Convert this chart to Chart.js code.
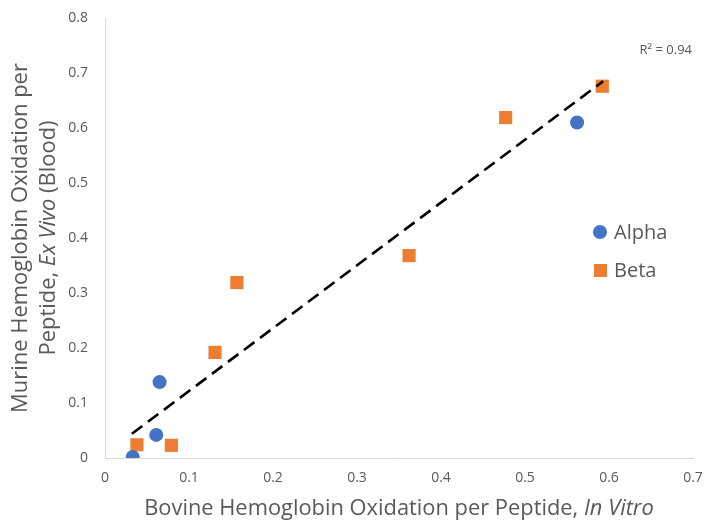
<!DOCTYPE html>
<html>
<head>
<meta charset="utf-8">
<script src="https://cdn.jsdelivr.net/npm/chart.js@4/dist/chart.umd.min.js"></script>
<style>
  html, body { margin: 0; padding: 0; background: #ffffff; }
  #wrap { width: 704px; height: 521px; position: relative; }
</style>
</head>
<body>
<div id="wrap"><canvas id="c" width="704" height="521"></canvas></div>
<script>
// ---- data ----
const seriesNames = ['Alpha', 'Beta'];
const alphaX = [0.033, 0.061, 0.065, 0.562];
const alphaY = [0.002, 0.042, 0.138, 0.610];
const betaX = [0.038, 0.079, 0.131, 0.157, 0.362, 0.477, 0.592];
const betaY = [0.024, 0.023, 0.192, 0.319, 0.368, 0.619, 0.676];
const trendX = [0.032, 0.593];
const trendY = [0.044, 0.685];
const r2Label = 'R\u00B2 = 0.94';
const xTickLabels = ['0', '0.1', '0.2', '0.3', '0.4', '0.5', '0.6', '0.7'];
const yTickLabels = ['0', '0.1', '0.2', '0.3', '0.4', '0.5', '0.6', '0.7', '0.8'];
const xTitleParts = [['Bovine Hemoglobin Oxidation per Peptide, ', false], ['In Vitro', true]];
const yTitleLine1 = [['Murine Hemoglobin Oxidation per', false]];
const yTitleLine2 = [['Peptide, ', false], ['Ex Vivo', true], [' (Blood)', false]];

const BLUE = '#4472C4';
const ORANGE = '#ED7D31';
const TEXT = '#595959';
const FONT = '"Open Sans", "DejaVu Sans", sans-serif';

function pts(xs, ys) { return xs.map((x, i) => ({ x: x, y: ys[i] })); }

function partsWidth(ctx, parts, size) {
  let w = 0;
  parts.forEach(([t, it]) => {
    ctx.font = (it ? 'italic ' : '') + size + 'px ' + FONT;
    w += ctx.measureText(t).width;
  });
  return w;
}
function drawParts(ctx, parts, size, cx, cy) {
  const w = partsWidth(ctx, parts, size);
  let x = cx - w / 2;
  parts.forEach(([t, it]) => {
    ctx.font = (it ? 'italic ' : '') + size + 'px ' + FONT;
    ctx.fillText(t, x, cy);
    x += ctx.measureText(t).width;
  });
}
function fitSize(ctx, parts, target) {
  const w = partsWidth(ctx, parts, 20);
  return 20 * target / w;
}

const decor = {
  id: 'decor',
  afterDraw(chart) {
    const ctx = chart.ctx;
    const a = chart.chartArea;
    ctx.save();
    ctx.fillStyle = TEXT;
    ctx.textBaseline = 'alphabetic';
    ctx.textAlign = 'left';
    // x title
    const xs = fitSize(ctx, xTitleParts, 510);
    drawParts(ctx, xTitleParts, xs, (a.left + a.right) / 2, 515);
    // y title (rotated)
    const ys = fitSize(ctx, yTitleLine1, 350);
    const cy = (a.top + a.bottom) / 2;
    ctx.save();
    ctx.translate(27, cy);
    ctx.rotate(-Math.PI / 2);
    drawParts(ctx, yTitleLine1, ys, 0, 0);
    ctx.restore();
    ctx.save();
    ctx.translate(55, cy);
    ctx.rotate(-Math.PI / 2);
    drawParts(ctx, yTitleLine2, ys, 0, 0);
    ctx.restore();
    // R^2 label
    ctx.font = '13px ' + FONT;
    ctx.textAlign = 'right';
    ctx.textBaseline = 'middle';
    ctx.fillText(r2Label, 692, 50);
    // legend
    ctx.textAlign = 'left';
    ctx.font = '20px ' + FONT;
    ctx.fillStyle = BLUE;
    ctx.beginPath();
    ctx.arc(600, 232, 7, 0, Math.PI * 2);
    ctx.fill();
    ctx.fillStyle = ORANGE;
    ctx.fillRect(594, 264, 13, 13);
    ctx.fillStyle = TEXT;
    ctx.fillText(seriesNames[0], 614, 233);
    ctx.fillText(seriesNames[1], 614, 271);
    ctx.restore();
  }
};

new Chart(document.getElementById('c'), {
  type: 'scatter',
  data: {
    datasets: [
      {
        type: 'line',
        label: 'Trend',
        data: pts(trendX, trendY),
        showLine: true,
        borderColor: '#000000',
        borderWidth: 2.6,
        borderDash: [13, 7],
        pointRadius: 0,
        fill: false
      },
      {
        label: seriesNames[0],
        data: pts(alphaX, alphaY),
        backgroundColor: BLUE,
        borderColor: BLUE,
        pointStyle: 'circle',
        pointRadius: 7,
        pointBorderWidth: 0
      },
      {
        label: seriesNames[1],
        data: pts(betaX, betaY),
        backgroundColor: ORANGE,
        borderColor: ORANGE,
        pointStyle: 'rect',
        pointRadius: 9.3,
        pointBorderWidth: 0
      }
    ]
  },
  options: {
    responsive: false,
    animation: false,
    events: [],
    layout: { padding: { left: 0, right: 11, top: 18, bottom: 0 } },
    plugins: { legend: { display: false }, tooltip: { enabled: false }, title: { display: false } },
    scales: {
      x: {
        type: 'linear',
        min: 0, max: 0.7,
        afterFit(s) { s.height = 63; s.paddingLeft = 0; s.paddingRight = 0; },
        afterBuildTicks(s) { s.ticks = xTickLabels.map(v => ({ value: parseFloat(v) })); },
        grid: { display: true, color: 'rgba(0,0,0,0)', drawTicks: false },
        border: { display: true, color: '#D9D9D9', width: 1 },
        ticks: {
          padding: 12,
          color: TEXT,
          font: { family: FONT, size: 14 },
          maxRotation: 0,
          autoSkip: false,
          callback: (v, i) => xTickLabels[i]
        }
      },
      y: {
        type: 'linear',
        min: 0, max: 0.8,
        afterFit(s) { s.width = 105; s.paddingTop = 0; s.paddingBottom = 0; },
        afterBuildTicks(s) { s.ticks = yTickLabels.map(v => ({ value: parseFloat(v) })); },
        grid: { display: true, color: 'rgba(0,0,0,0)', drawTicks: false },
        border: { display: true, color: '#D9D9D9', width: 1 },
        ticks: {
          padding: 17,
          color: TEXT,
          font: { family: FONT, size: 14 },
          autoSkip: false,
          callback: (v, i) => yTickLabels[i]
        }
      }
    }
  },
  options_end: true,
  plugins: [decor]
});
</script>
</body>
</html>
